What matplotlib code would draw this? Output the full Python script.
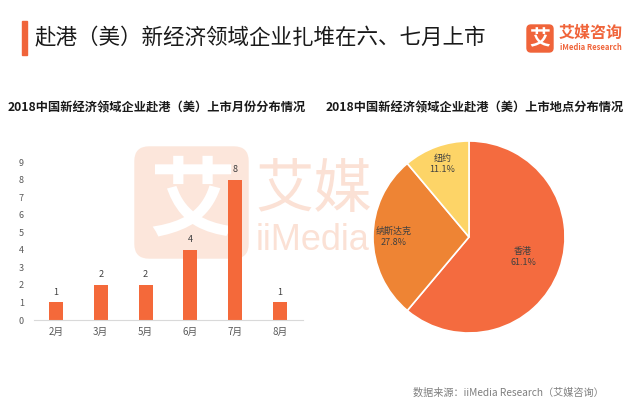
import matplotlib
matplotlib.use('Agg')
import matplotlib.pyplot as plt
from matplotlib.patches import FancyBboxPatch, Rectangle
import numpy as np

plt.rcParams['font.family'] = ['Noto Sans CJK SC', 'DejaVu Sans']

# data
months = ['2月', '3月', '5月', '6月', '7月', '8月']
month_counts = [1, 2, 2, 4, 8, 1]
places = ['香港', '纳斯达克', '纽约']
place_counts = [11, 5, 2]
place_colors = ['#F46B3F', '#EE8434', '#FDD467']

title = '赴港（美）新经济领域企业扎堆在六、七月上市'
left_title = '2018中国新经济领域企业赴港（美）上市月份分布情况'
right_title = '2018中国新经济领域企业赴港（美）上市地点分布情况'
source = '数据来源：iiMedia Research（艾媒咨询）'

W, H = 640, 408
fig = plt.figure(figsize=(6.4, 4.08), dpi=100)
fig.patch.set_facecolor('white')

# background layer in pixel coords
bg = fig.add_axes([0, 0, 1, 1], zorder=0)
bg.set_xlim(0, W)
bg.set_ylim(H, 0)
bg.axis('off')

# header
bg.add_patch(Rectangle((22, 21), 5, 34, color='#F0643A'))
bg.text(35, 38, title, fontsize=15.5, color='#1a1a1a', va='center', ha='left')

# logo
bg.add_patch(FancyBboxPatch((527, 25), 26, 27, boxstyle='round,pad=0,rounding_size=4',
                            color='#F0643A'))
bg.text(540, 39, '艾', fontsize=15, color='white', fontweight='bold', ha='center', va='center')
bg.text(559, 33, '艾媒咨询', fontsize=11.5, color='#F0643A', fontweight='bold', va='center')
bg.text(560, 47, 'iMedia Research', fontsize=5.5, color='#F0643A', fontweight='bold', va='center')

# watermark
bg.add_patch(FancyBboxPatch((135, 147), 113, 111, boxstyle='round,pad=0,rounding_size=14',
                            color='#FCE6DB'))
bg.text(192, 203, '艾', fontsize=62, color='white', fontweight='bold', ha='center', va='center')
bg.text(255, 190, '艾媒', fontsize=42, color='#FBE1D5', va='center', ha='left')
bg.text(256, 241, 'iiMedia', fontsize=26, color='#FBE1D5', va='center', ha='left',
        family='Liberation Sans')

# subtitles
bg.text(157, 108, left_title, fontsize=8.8, fontweight='bold', color='#1a1a1a', ha='center', va='center')
bg.text(475, 108, right_title, fontsize=8.8, fontweight='bold', color='#1a1a1a', ha='center', va='center')

# footer
bg.text(508, 393, source, fontsize=7.3, color='#7F7F7F', ha='center', va='center')

# bar chart
ax = fig.add_axes([33.5 / W, 88 / H, 269 / W, 158 / H], zorder=1)
ax.patch.set_alpha(0)
x = np.arange(len(months))
bars = ax.bar(x, month_counts, width=0.31, color='#F4693A')
for b, v in zip(bars, month_counts):
    ax.annotate(str(v), (b.get_x() + b.get_width() / 2, v), xytext=(0, 4),
                textcoords='offset points', ha='center', va='bottom', fontsize=6.5, color='#404040')
ax.set_xlim(-0.5, len(months) - 0.5)
ax.set_ylim(0, 9)
ax.set_yticks(range(10))
ax.set_xticks(x)
ax.set_xticklabels(months)
for s in ['top', 'right', 'left']:
    ax.spines[s].set_visible(False)
ax.spines['bottom'].set_color('#D9D9D9')
ax.tick_params(axis='y', length=0, labelsize=6.5, labelcolor='#595959', pad=7)
ax.tick_params(axis='x', length=0, labelsize=7, labelcolor='#595959', pad=5)

# pie chart
pax = fig.add_axes([(469 - 100) / W, (H - 237 - 100) / H, 200 / W, 200 / H], zorder=1)
pax.patch.set_alpha(0)
wedges, _ = pax.pie(place_counts, colors=place_colors, startangle=90, counterclock=False,
                    wedgeprops=dict(edgecolor='white', linewidth=1.2))
total = sum(place_counts)
dists = [0.6, 0.79, 0.81]
start = 90.0
for name, c, d in zip(places, place_counts, dists):
    span = 360.0 * c / total
    mid = np.deg2rad(start - span / 2)
    start -= span
    pax.text(d * np.cos(mid), d * np.sin(mid), '%s\n%.1f%%' % (name, 100.0 * c / total),
             ha='center', va='center', fontsize=6.5, color='#404040', linespacing=1.3)
pax.set_xlim(-100 / 96, 100 / 96)
pax.set_ylim(-100 / 96, 100 / 96)
pax.set_aspect('equal')

fig.savefig('out.png', dpi=100, facecolor='white')
